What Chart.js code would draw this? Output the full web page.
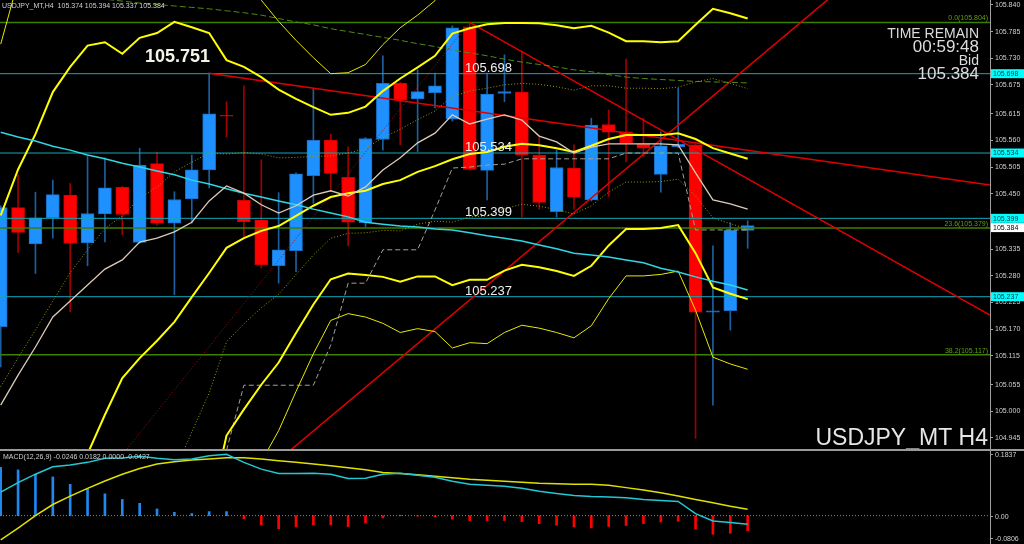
<!DOCTYPE html>
<html>
<head>
<meta charset="utf-8">
<script src="https://cdn.jsdelivr.net/npm/chart.js@4.4.1/dist/chart.umd.min.js"></script>
<style>
html, body { margin: 0; padding: 0; background: #000; overflow: hidden; }
#wrap { position: relative; width: 1024px; height: 544px; background: #000; }
#main { position: absolute; left: 0; top: 0; }
#sep { position: absolute; left: 0; top: 449px; width: 1024px; height: 2px; background: #9a9a9a; }
#macd { position: absolute; left: 0; top: 451px; }
</style>
</head>
<body>
<div id="wrap">
<canvas id="main" width="1024" height="449"></canvas>
<div id="sep"></div>
<canvas id="macd" width="1024" height="93"></canvas>
</div>
<script>
// USDJPY_MT H4 candles, oldest first
var opens  = [105.175,105.421,105.346,105.400,105.447,105.348,105.408,105.463,105.349,105.512,105.389,105.439,105.499,105.612,105.436,105.396,105.301,105.332,105.487,105.561,105.484,105.390,105.562,105.678,105.646,105.659,105.604,105.795,105.498,105.657,105.660,105.530,105.413,105.503,105.437,105.593,105.578,105.553,105.490,105.547,105.551,105.205,105.208,105.374];
var highs  = [105.425,105.489,105.453,105.478,105.471,105.528,105.524,105.465,105.544,105.536,105.454,105.530,105.699,105.640,105.673,105.520,105.452,105.493,105.668,105.573,105.547,105.566,105.735,105.680,105.706,105.699,105.797,105.804,105.699,105.737,105.744,105.568,105.540,105.551,105.606,105.623,105.728,105.606,105.578,105.668,105.553,105.342,105.390,105.394];
var lows   = [105.092,105.328,105.285,105.358,105.206,105.301,105.350,105.365,105.347,105.385,105.241,105.389,105.462,105.567,105.361,105.296,105.265,105.289,105.430,105.458,105.342,105.382,105.540,105.551,105.537,105.627,105.600,105.498,105.437,105.640,105.402,105.418,105.402,105.418,105.435,105.444,105.516,105.526,105.453,105.545,104.944,105.013,105.168,105.337];
var closes = [105.421,105.370,105.400,105.448,105.347,105.409,105.462,105.407,105.509,105.389,105.438,105.499,105.615,105.610,105.392,105.303,105.334,105.491,105.560,105.492,105.391,105.564,105.678,105.644,105.661,105.673,105.793,105.500,105.656,105.661,105.530,105.432,105.504,105.443,105.592,105.577,105.554,105.544,105.549,105.552,105.205,105.208,105.374,105.384];

// bollinger lines
var bbMid    = [104.697,104.722,104.763,104.796,104.860,104.912,104.993,105.069,105.110,105.146,105.185,105.236,105.286,105.338,105.358,105.373,105.383,105.404,105.425,105.443,105.451,105.456,105.470,105.478,105.495,105.507,105.521,105.532,105.536,105.547,105.553,105.550,105.544,105.536,105.549,105.563,105.571,105.571,105.571,105.575,105.563,105.544,105.533,105.522];
var bbUpper1 = [105.051,105.111,105.168,105.228,105.286,105.334,105.378,105.404,105.441,105.464,105.495,105.515,105.534,105.532,105.535,105.532,105.524,105.525,105.527,105.528,105.534,105.543,105.566,105.583,105.603,105.621,105.651,105.662,105.668,105.675,105.678,105.676,105.671,105.664,105.673,105.673,105.668,105.668,105.667,105.670,105.681,105.688,105.678,105.667];
var bbUpper2 = [105.405,105.500,105.573,105.660,105.712,105.756,105.763,105.739,105.772,105.782,105.805,105.794,105.782,105.726,105.712,105.691,105.665,105.646,105.629,105.613,105.617,105.630,105.662,105.688,105.711,105.735,105.781,105.792,105.800,105.803,105.803,105.802,105.798,105.792,105.797,105.783,105.765,105.765,105.763,105.765,105.799,105.832,105.823,105.812];
var bbUpper3 = [105.759,105.889,105.978,106.092,106.138,106.178,106.148,106.074,106.103,106.100,106.115,106.073,106.030,105.920,105.889,105.850,105.806,105.767,105.731,105.698,105.700,105.717,105.758,105.793,105.819,105.849,105.911,105.922,105.932,105.931,105.928,105.928,105.925,105.920,105.921,105.893,105.862,105.862,105.859,105.860,105.917,105.976,105.968,105.957];
var bbLower1 = [104.343,104.333,104.358,104.364,104.434,104.490,104.608,104.734,104.779,104.828,104.875,104.957,105.038,105.144,105.181,105.214,105.242,105.283,105.323,105.358,105.368,105.369,105.374,105.373,105.387,105.393,105.391,105.402,105.404,105.419,105.428,105.424,105.417,105.408,105.425,105.453,105.474,105.474,105.475,105.480,105.445,105.400,105.388,105.377];
var bbLower2 = [103.989,103.944,103.953,103.932,104.008,104.068,104.223,104.399,104.448,104.510,104.565,104.678,104.790,104.950,105.004,105.055,105.101,105.162,105.221,105.273,105.285,105.282,105.278,105.268,105.279,105.279,105.261,105.272,105.272,105.291,105.303,105.298,105.290,105.280,105.301,105.343,105.377,105.377,105.379,105.385,105.327,105.256,105.243,105.232];
var bbLower3 = [103.635,103.555,103.548,103.500,103.582,103.646,103.838,104.064,104.117,104.192,104.255,104.399,104.542,104.756,104.827,104.896,104.960,105.041,105.119,105.188,105.202,105.195,105.182,105.163,105.171,105.165,105.131,105.142,105.140,105.163,105.178,105.172,105.163,105.152,105.177,105.233,105.280,105.280,105.283,105.290,105.209,105.112,105.098,105.087];

// moving averages
var maFast = [105.013,105.075,105.133,105.195,105.228,105.261,105.294,105.313,105.350,105.358,105.371,105.391,105.435,105.466,105.451,105.427,105.410,105.425,105.447,105.456,105.445,105.464,105.499,105.524,105.555,105.575,105.613,105.594,105.604,105.613,105.602,105.569,105.557,105.534,105.546,105.553,105.553,105.553,105.553,105.551,105.493,105.437,105.429,105.418];
var maSlow = [105.577,105.567,105.559,105.548,105.540,105.530,105.522,105.513,105.505,105.497,105.489,105.478,105.470,105.460,105.451,105.443,105.435,105.427,105.418,105.410,105.402,105.391,105.387,105.383,105.381,105.377,105.375,105.369,105.363,105.358,105.352,105.344,105.336,105.327,105.323,105.319,105.313,105.307,105.296,105.288,105.278,105.269,105.261,105.251];
var maLong = [105.875,105.871,105.867,105.863,105.860,105.856,105.852,105.848,105.844,105.841,105.838,105.835,105.832,105.828,105.824,105.819,105.812,105.805,105.799,105.791,105.785,105.779,105.773,105.767,105.760,105.754,105.747,105.741,105.735,105.728,105.722,105.717,105.712,105.706,105.702,105.696,105.691,105.688,105.686,105.684,105.682,105.681,105.680,105.679];
var stepLine = [null,null,null,null,null,null,null,null,null,null,null,null,null,104.920,105.054,105.054,105.054,105.054,105.054,105.137,105.265,105.265,105.334,105.334,105.334,105.416,105.503,105.505,105.509,105.511,105.522,105.522,105.522,105.522,105.522,105.522,105.534,105.534,105.534,105.534,105.375,105.375,105.375,105.375];

// MACD(12,26,9)
var macdMain   = [0.0670,0.0940,0.1178,0.1388,0.1437,0.1514,0.1629,0.1638,0.1687,0.1629,0.1589,0.1609,0.1704,0.1744,0.1514,0.1322,0.1198,0.1198,0.1207,0.1178,0.1055,0.1063,0.1178,0.1207,0.1149,0.1092,0.0977,0.0891,0.0862,0.0833,0.0776,0.0690,0.0632,0.0575,0.0546,0.0532,0.0509,0.0460,0.0431,0.0402,0.0057,-0.0152,-0.0193,-0.0246];
var macdSignal = [-0.0690,-0.0353,0.0000,0.0316,0.0555,0.0776,0.0986,0.1178,0.1342,0.1466,0.1532,0.1580,0.1609,0.1647,0.1647,0.1609,0.1560,0.1514,0.1466,0.1417,0.1359,0.1302,0.1227,0.1198,0.1164,0.1121,0.1078,0.1034,0.1006,0.0977,0.0948,0.0920,0.0905,0.0891,0.0891,0.0862,0.0796,0.0727,0.0652,0.0555,0.0460,0.0365,0.0267,0.0182];
var macdHist   = [0.137,0.130,0.118,0.110,0.089,0.075,0.062,0.046,0.035,0.019,0.0095,0.006,0.0115,0.0115,-0.0086,-0.026,-0.037,-0.032,-0.026,-0.026,-0.031,-0.021,-0.0066,0.001,-0.0015,-0.003,-0.010,-0.014,-0.014,-0.014,-0.017,-0.023,-0.027,-0.032,-0.035,-0.031,-0.028,-0.023,-0.018,-0.016,-0.038,-0.053,-0.050,-0.0427];

// axis ticks
var priceTicks = [105.840,105.785,105.730,105.675,105.615,105.560,105.505,105.450,105.390,105.335,105.280,105.225,105.170,105.115,105.055,105.000,104.945];
var macdTicks = [0.1837, 0.00, -0.0806];
var macdTickLabels = ['0.1837', '0.00', '-0.0806'];

// drawn objects
var levels = [105.698, 105.534, 105.399, 105.237];
var fibLevels = [105.804, 105.379, 105.117];
var fibLabels = ['0.0(105.804)', '23.6(105.379)', '38.2(105.117)'];
var bidPrice = 105.384;
var textPrice = 105.751;
var trendA = { x: [12, 56.95], y: [105.699, 105.468] };
var trendB = { x: [27, 56.95], y: [105.804, 105.199] };
var trendC = { x: [14, 52], y: [104.839, 105.983] };
var trendD = { x: [5, 27], y: [104.821, 105.804] };

var xMin = -0.04, xMax = 56.95;
var yMin = 104.9222, yMax = 105.8503;

function pts(arr) {
	return arr.map(function (v, i) { return { x: i, y: v }; });
}
function seg(t) {
	return t.x.map(function (x, k) { return { x: x, y: t.y[k] }; });
}
function flat(v) {
	return [{ x: xMin, y: v }, { x: xMax, y: v }];
}
function line(data, color, width, dash) {
	return { type: 'line', data: data, borderColor: color, borderWidth: width, borderDash: dash || [],
		pointRadius: 0, tension: 0, fill: false, order: 1, spanGaps: false };
}
function noPad(s) {
	s.width = 34;
	s.paddingTop = 0;
	s.paddingBottom = 0;
}

var up = closes.map(function (c, i) { return c >= opens[i]; });

var bodies = {
	type: 'bar', order: 10, grouped: false, barThickness: 13, borderSkipped: false, borderWidth: 1,
	data: opens.map(function (o, i) { return { x: i, y: [o, closes[i]] }; }),
	backgroundColor: up.map(function (u) { return u ? '#1e90ff' : '#ff0000'; }),
	borderColor: up.map(function (u) { return u ? '#1a6fc4' : '#d40000'; })
};
var wicks = {
	type: 'bar', order: 11, grouped: false, barThickness: 1, borderWidth: 0,
	data: lows.map(function (l, i) { return { x: i, y: [l, highs[i]] }; }),
	backgroundColor: up.map(function (u) { return u ? '#1d5f9e' : '#a00000'; })
};

var mainSets = [
	line(pts(maFast), '#dccbb8', 1.3),
	line(pts(maSlow), '#2fd6e4', 1.5),
	line(pts(bbMid), '#ffff00', 2),
	line(pts(bbUpper2), '#ffff00', 2),
	line(pts(bbLower2), '#ffff00', 2),
	line(pts(bbUpper3), '#e8e800', 1),
	line(pts(bbLower3), '#e8e800', 1),
	line(pts(bbUpper1), '#9a9a00', 1, [1, 2]),
	line(pts(bbLower1), '#9a9a00', 1, [1, 2]),
	line(pts(maLong), '#4f8a10', 1, [6, 3]),
	line(pts(stepLine), '#a89e94', 1, [5, 3]),
	line(seg(trendA), '#e00000', 1.5),
	line(seg(trendB), '#e00000', 1.5),
	line(seg(trendC), '#e00000', 1.5),
	line(seg(trendD), '#a01010', 1, [1, 2])
];
levels.forEach(function (v) { mainSets.push(line(flat(v), '#12a8b8', 1)); });
fibLevels.forEach(function (v) { mainSets.push(line(flat(v), '#3f7f00', 1.5)); });
mainSets.push(bodies, wicks);

var mainText = {
	id: 'mainText',
	afterDraw: function (chart) {
		var c = chart.ctx, ys = chart.scales.y, xs = chart.scales.x;
		c.save();
		// header
		c.font = '7px "Liberation Sans"';
		c.fillStyle = '#d0d0d0';
		c.textAlign = 'left';
		c.textBaseline = 'alphabetic';
		c.fillText('USDJPY_MT,H4  ' + opens[43].toFixed(3) + ' ' + highs[43].toFixed(3) + ' ' + lows[43].toFixed(3) + ' ' + closes[43].toFixed(3), 2, 8);

		// level texts
		c.font = '13px "Liberation Sans"';
		c.fillStyle = '#eeeeee';
		levels.forEach(function (v) {
			c.fillText(v.toFixed(3), xs.getPixelForValue(26.73), ys.getPixelForValue(v) - 2);
		});
		c.font = 'bold 18px "Liberation Sans"';
		c.fillStyle = '#f4f4e8';
		c.fillText(textPrice.toFixed(3), xs.getPixelForValue(8.3), ys.getPixelForValue(textPrice) + 14);

		// fibo labels
		c.font = '7px "Liberation Sans"';
		c.fillStyle = '#5fa010';
		c.textAlign = 'right';
		fibLevels.forEach(function (v, k) {
			c.fillText(fibLabels[k], 988, ys.getPixelForValue(v) - 2);
		});

		// time remain block
		c.fillStyle = '#dcdcdc';
		c.font = '14px "Liberation Sans"';
		c.fillText('TIME REMAIN', 979, 38);
		c.font = '17px "Liberation Sans"';
		c.fillText('00:59:48', 979, 52);
		c.font = '14px "Liberation Sans"';
		c.fillText('Bid', 979, 65);
		c.font = '17px "Liberation Sans"';
		c.fillText(bidPrice.toFixed(3), 979, 79);

		// symbol
		c.font = '23px "Liberation Sans"';
		c.fillStyle = '#e6e6e6';
		c.fillText('USDJPY_MT H4', 988, 445);

		// price boxes on the axis
		c.font = '7px "Liberation Sans"';
		c.textAlign = 'left';
		c.textBaseline = 'middle';
		levels.forEach(function (v) {
			var y = ys.getPixelForValue(v);
			c.fillStyle = '#00ffff';
			c.fillRect(991, y - 4.5, 33, 9);
			c.fillStyle = '#003a40';
			c.fillText(v.toFixed(3), 993, y + 0.5);
		});
		var yb = ys.getPixelForValue(bidPrice) + 2;
		c.fillStyle = '#ffffff';
		c.fillRect(991, yb - 4.5, 33, 9);
		c.fillStyle = '#000000';
		c.fillText(bidPrice.toFixed(3), 993, yb + 0.5);
		c.restore();
	}
};

new Chart(document.getElementById('main'), {
	type: 'bar',
	data: { datasets: mainSets },
	options: {
		responsive: false,
		animation: false,
		events: [],
		layout: { padding: 0, autoPadding: false },
		plugins: { legend: { display: false }, tooltip: { enabled: false } },
		scales: {
			x: { type: 'linear', min: xMin, max: xMax, offset: false, display: false },
			y: {
				type: 'linear', position: 'right', min: yMin, max: yMax,
				afterBuildTicks: function (s) { s.ticks = priceTicks.map(function (v) { return { value: v }; }); },
				afterFit: noPad,
				grid: { drawOnChartArea: false, drawTicks: true, tickLength: 3, color: '#a0a0a0' },
				border: { display: true, color: '#a0a0a0' },
				ticks: {
					autoSkip: false, padding: 2, color: '#d0d0d0',
					font: { family: 'Liberation Sans', size: 7 },
					callback: function (v) { return Number(v).toFixed(3); }
				}
			}
		}
	},
	plugins: [mainText]
});

// MACD window
var macdText = {
	id: 'macdText',
	afterDraw: function (chart) {
		var c = chart.ctx, ys = chart.scales.y;
		c.save();
		c.font = '7px "Liberation Sans"';
		c.fillStyle = '#d0d0d0';
		c.textAlign = 'left';
		c.fillText('MACD(12,26,9) ' + macdMain[43].toFixed(4) + ' ' + macdSignal[43].toFixed(4) + ' 0.0000 ' + macdHist[43].toFixed(4), 3, 8);
		c.strokeStyle = '#a0a0a0';
		c.lineWidth = 1;
		macdTicks.forEach(function (v, k) {
			var y = ys.getPixelForValue(v);
			var ty = k === 0 ? y + 6 : (k === 2 ? y - 3 : y + 3);
			c.fillText(macdTickLabels[k], 995, ty);
			c.beginPath();
			c.moveTo(990, Math.round(ty - 3) + 0.5);
			c.lineTo(993, Math.round(ty - 3) + 0.5);
			c.stroke();
		});
		c.restore();
	}
};

new Chart(document.getElementById('macd'), {
	type: 'bar',
	data: {
		datasets: [
			line(pts(macdMain), '#22c8d4', 1.5),
			line(pts(macdSignal), '#e0e000', 1.5),
			line(flat(0), '#8a8a8a', 1, [1, 2]),
			{
				type: 'bar', order: 10, grouped: false, barThickness: 2, borderWidth: 0,
				data: pts(macdHist),
				backgroundColor: macdHist.map(function (v) { return v >= 0 ? '#1e88f0' : '#ff0000'; })
			}
		]
	},
	options: {
		responsive: false,
		animation: false,
		events: [],
		layout: { padding: 0, autoPadding: false },
		plugins: { legend: { display: false }, tooltip: { enabled: false } },
		scales: {
			x: { type: 'linear', min: xMin, max: xMax, offset: false, display: false },
			y: {
				type: 'linear', position: 'right', min: -0.0806, max: 0.1837,
				afterFit: noPad,
				grid: { display: false },
				border: { display: true, color: '#a0a0a0' },
				ticks: { display: false }
			}
		}
	},
	plugins: [macdText]
});
</script>
</body>
</html>
